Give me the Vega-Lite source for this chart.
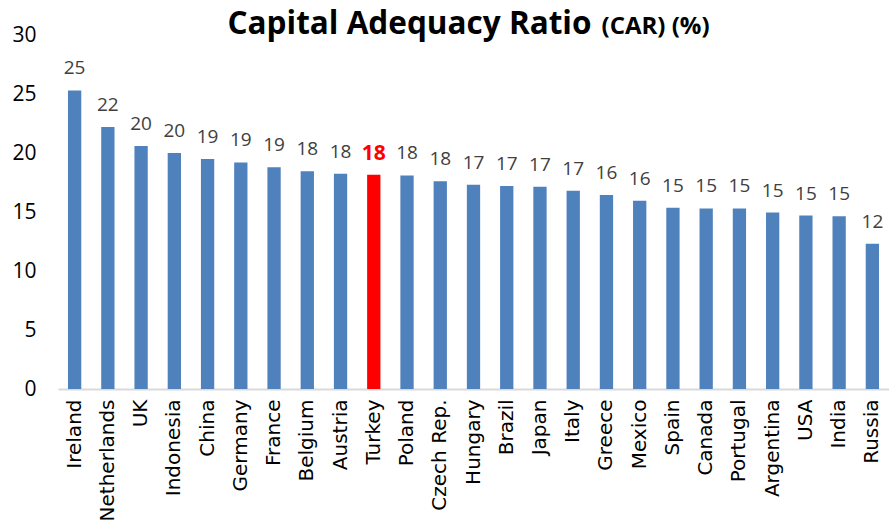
{
  "$schema": "https://vega.github.io/schema/vega-lite/v6.json",
  "width": 831,
  "height": 354,
  "autosize": {"type": "none"},
  "padding": {"left": 58, "top": 35, "right": 0, "bottom": 137},
  "background": "white",
  "data": {
    "values": [
      {"country": "Ireland", "car": 25.3, "label": "25"},
      {"country": "Netherlands", "car": 22.2, "label": "22"},
      {"country": "UK", "car": 20.6, "label": "20"},
      {"country": "Indonesia", "car": 20.0, "label": "20"},
      {"country": "China", "car": 19.5, "label": "19"},
      {"country": "Germany", "car": 19.2, "label": "19"},
      {"country": "France", "car": 18.8, "label": "19"},
      {"country": "Belgium", "car": 18.45, "label": "18"},
      {"country": "Austria", "car": 18.25, "label": "18"},
      {"country": "Turkey", "car": 18.15, "label": "18"},
      {"country": "Poland", "car": 18.1, "label": "18"},
      {"country": "Czech Rep.", "car": 17.6, "label": "18"},
      {"country": "Hungary", "car": 17.3, "label": "17"},
      {"country": "Brazil", "car": 17.2, "label": "17"},
      {"country": "Japan", "car": 17.15, "label": "17"},
      {"country": "Italy", "car": 16.8, "label": "17"},
      {"country": "Greece", "car": 16.45, "label": "16"},
      {"country": "Mexico", "car": 15.95, "label": "16"},
      {"country": "Spain", "car": 15.35, "label": "15"},
      {"country": "Canada", "car": 15.3, "label": "15"},
      {"country": "Portugal", "car": 15.3, "label": "15"},
      {"country": "Argentina", "car": 14.95, "label": "15"},
      {"country": "USA", "car": 14.7, "label": "15"},
      {"country": "India", "car": 14.65, "label": "15"},
      {"country": "Russia", "car": 12.3, "label": "12"}
    ]
  },
  "encoding": {
    "x": {
      "field": "country",
      "type": "nominal",
      "sort": null,
      "scale": {"paddingInner": 0.6, "paddingOuter": 0.3},
      "axis": {
        "title": "(CAR) (%)",
        "titleFont": "Open Sans",
        "titleFontSize": 24,
        "titleFontWeight": "bold",
        "titleColor": "black",
        "titleAngle": 0,
        "titleAlign": "left",
        "titleBaseline": "alphabetic",
        "titleX": 543,
        "titleY": -356,
        "labelAngle": -90,
        "labelAlign": "right",
        "labelBaseline": "middle",
        "labelFont": "DejaVu Sans",
        "labelFontSize": 20,
        "labelColor": "black",
        "labelPadding": 10,
        "ticks": false,
        "domainColor": "#d9d9d9",
        "domainWidth": 2,
        "grid": false
      }
    },
    "y": {
      "field": "car",
      "type": "quantitative",
      "scale": {"domain": [0, 30], "nice": false},
      "axis": {
        "title": "Capital Adequacy Ratio",
        "titleFont": "Open Sans",
        "titleFontSize": 31.5,
        "titleFontWeight": "bold",
        "titleColor": "black",
        "titleAngle": 0,
        "titleAlign": "left",
        "titleBaseline": "alphabetic",
        "titleX": 169,
        "titleY": -2,
        "values": [0, 5, 10, 15, 20, 25, 30],
        "labelFont": "Open Sans",
        "labelFontSize": 21,
        "labelColor": "black",
        "labelPadding": 22,
        "ticks": false,
        "domain": false,
        "grid": false
      }
    }
  },
  "layer": [
    {
      "mark": {"type": "bar"},
      "encoding": {
        "color": {
          "condition": {"test": "datum.country === 'Turkey'", "value": "#FF0000"},
          "value": "#4F81BD"
        }
      }
    },
    {
      "transform": [{"filter": "datum.country !== 'Turkey'"}],
      "mark": {"type": "text", "baseline": "bottom", "dy": -12, "font": "Open Sans", "fontSize": 19, "color": "#404040"},
      "encoding": {"text": {"field": "label"}}
    },
    {
      "transform": [{"filter": "datum.country === 'Turkey'"}],
      "mark": {"type": "text", "baseline": "bottom", "dy": -11, "font": "Open Sans", "fontSize": 21, "fontWeight": "bold", "color": "#FF0000"},
      "encoding": {"text": {"field": "label"}}
    }
  ],
  "config": {"view": {"stroke": null}}
}
